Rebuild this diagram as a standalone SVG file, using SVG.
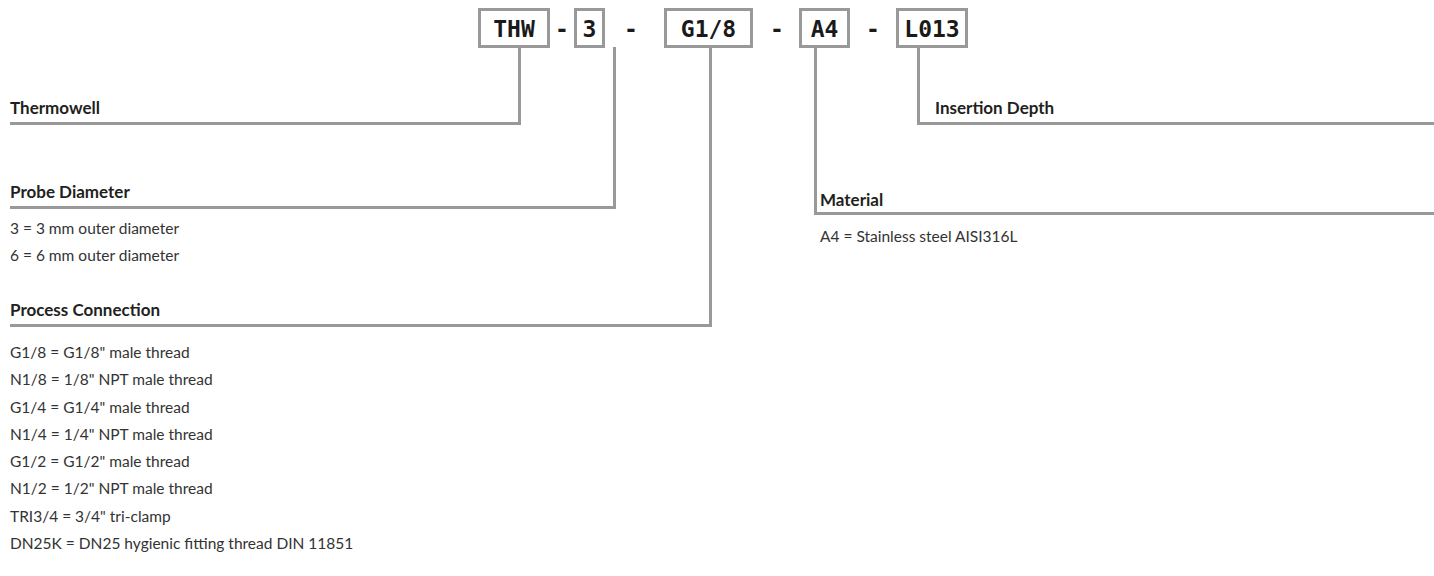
<svg xmlns="http://www.w3.org/2000/svg" width="1434" height="576" viewBox="0 0 1434 576">
<style>
.box{fill:#fff;stroke:#999;stroke-width:3}
.code{font-family:"DejaVu Sans Mono",monospace;font-weight:bold;font-size:23px;fill:#1a1a1a;text-anchor:middle}
.conn{fill:none;stroke:#999;stroke-width:3}
.head{font-family:Lato,"Open Sans",sans-serif;font-weight:bold;font-size:17px;fill:#231f20}
.item{font-family:Lato,"Open Sans",sans-serif;font-size:15.5px;fill:#333}
</style>
<rect width="1434" height="576" fill="#fff"/>
<g id="connectors">
<path class="conn" d="M10 123.5H519.5V47"/>
<path class="conn" d="M10 207.5H614.5V47"/>
<path class="conn" d="M10 325.5H710.5V47"/>
<path class="conn" d="M1434 213.5H815.5V47"/>
<path class="conn" d="M1434 123.5H918.5V47"/>
</g>
<g id="code">
<g id="n-thw"><rect class="box" x="479.5" y="9.5" width="69" height="37"/><text class="code" x="514" y="37">THW</text></g>
<text class="code" x="562" y="37">-</text>
<g id="n-3"><rect class="box" x="575.5" y="9.5" width="28" height="37"/><text class="code" x="589.5" y="37">3</text></g>
<text class="code" x="631" y="37">-</text>
<g id="n-g18"><rect class="box" x="665.5" y="9.5" width="86" height="37"/><text class="code" x="708.5" y="37">G1/8</text></g>
<text class="code" x="777" y="37">-</text>
<g id="n-a4"><rect class="box" x="800.5" y="9.5" width="48" height="37"/><text class="code" x="824.5" y="37">A4</text></g>
<text class="code" x="873" y="37">-</text>
<g id="n-l013"><rect class="box" x="897.5" y="9.5" width="69" height="37"/><text class="code" x="932" y="37">L013</text></g>
</g>
<g id="thermowell"><text class="head" x="10" y="114">Thermowell</text></g>
<g id="probe">
<text class="head" x="10" y="198">Probe Diameter</text>
<text class="item" x="10" y="234">3 = 3 mm outer diameter</text>
<text class="item" x="10" y="261">6 = 6 mm outer diameter</text>
</g>
<g id="process">
<text class="head" x="10" y="316">Process Connection</text>
<text class="item" x="10" y="358">G1/8 = G1/8" male thread</text>
<text class="item" x="10" y="385">N1/8 = 1/8" NPT male thread</text>
<text class="item" x="10" y="413">G1/4 = G1/4" male thread</text>
<text class="item" x="10" y="440">N1/4 = 1/4" NPT male thread</text>
<text class="item" x="10" y="467">G1/2 = G1/2" male thread</text>
<text class="item" x="10" y="494">N1/2 = 1/2" NPT male thread</text>
<text class="item" x="10" y="522">TRI3/4 = 3/4" tri-clamp</text>
<text class="item" x="10" y="549">DN25K = DN25 hygienic fitting thread DIN 11851</text>
</g>
<g id="insertion"><text class="head" x="935" y="114">Insertion Depth</text></g>
<g id="material">
<text class="head" x="820" y="206">Material</text>
<text class="item" x="820" y="242">A4 = Stainless steel AISI316L</text>
</g>
</svg>
